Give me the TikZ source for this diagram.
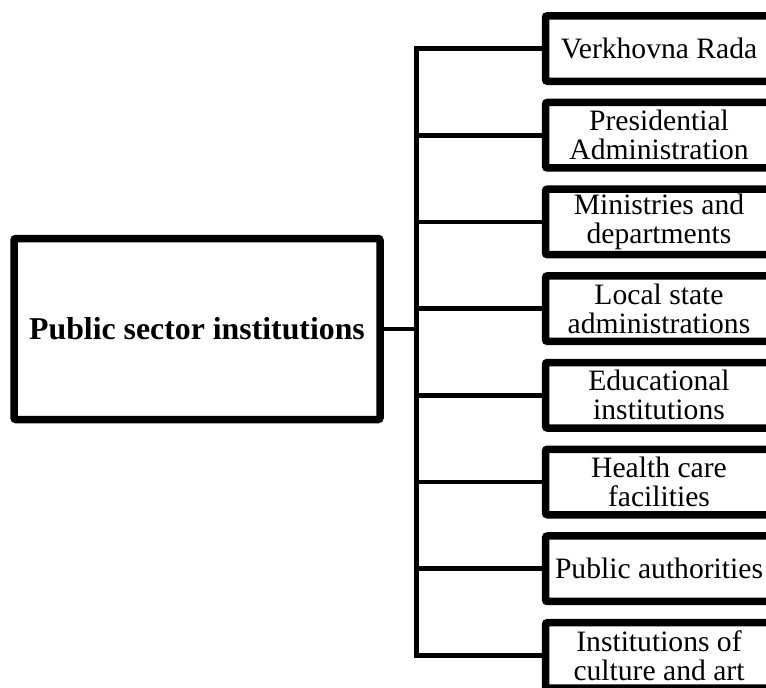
\documentclass[tikz,border=0pt]{standalone}
\usepackage{fontspec}
\setmainfont{Liberation Serif}
\usetikzlibrary{shadows}
\begin{document}
\begin{tikzpicture}[x=1pt,y=-1pt,
  box/.style={draw=black, fill=white, line width=7.5pt, rounded corners=2pt,
    drop shadow={shadow xshift=1.5pt, shadow yshift=-3pt, opacity=0.25}},
  mainbox/.style={box, minimum width=366pt, minimum height=181pt,
    font=\fontsize{31.8}{33}\selectfont\bfseries},
  itembox/.style={box, minimum width=227pt, minimum height=65.5pt, inner sep=0pt,
    align=center, font=\fontsize{29.6}{29}\selectfont},
  conn/.style={line width=4.6pt, line join=miter}]
\useasboundingbox (0,0) rectangle (766,688);
\clip (0,0) rectangle (766,688);
\node[mainbox] (main) at (197,329) {Public sector institutions};
\node[itembox] (b1) at (659,48.5) {Verkhovna Rada};
\node[itembox] (b2) at (659,135.2) {Presidential\\Administration};
\node[itembox] (b3) at (659,221.9) {Ministries and\\departments};
\node[itembox] (b4) at (659,308.6) {Local state\\administrations};
\node[itembox] (b5) at (659,395.3) {Educational\\institutions};
\node[itembox] (b6) at (659,482) {Health care\\facilities};
\node[itembox] (b7) at (659,568.7) {Public authorities};
\node[itembox] (b8) at (659,655.4) {Institutions of\\culture and art};
\coordinate (T) at (416.5,0);
\draw[conn] (b1.west) -- (b1.west -| T) -- (b8.west -| T) -- (b8.west);
\foreach \i in {2,...,7} {\draw[conn] (b\i.west) -- (b\i.west -| T);}
\draw[conn] (main.east) -- (main.east -| T);
\end{tikzpicture}
\end{document}
